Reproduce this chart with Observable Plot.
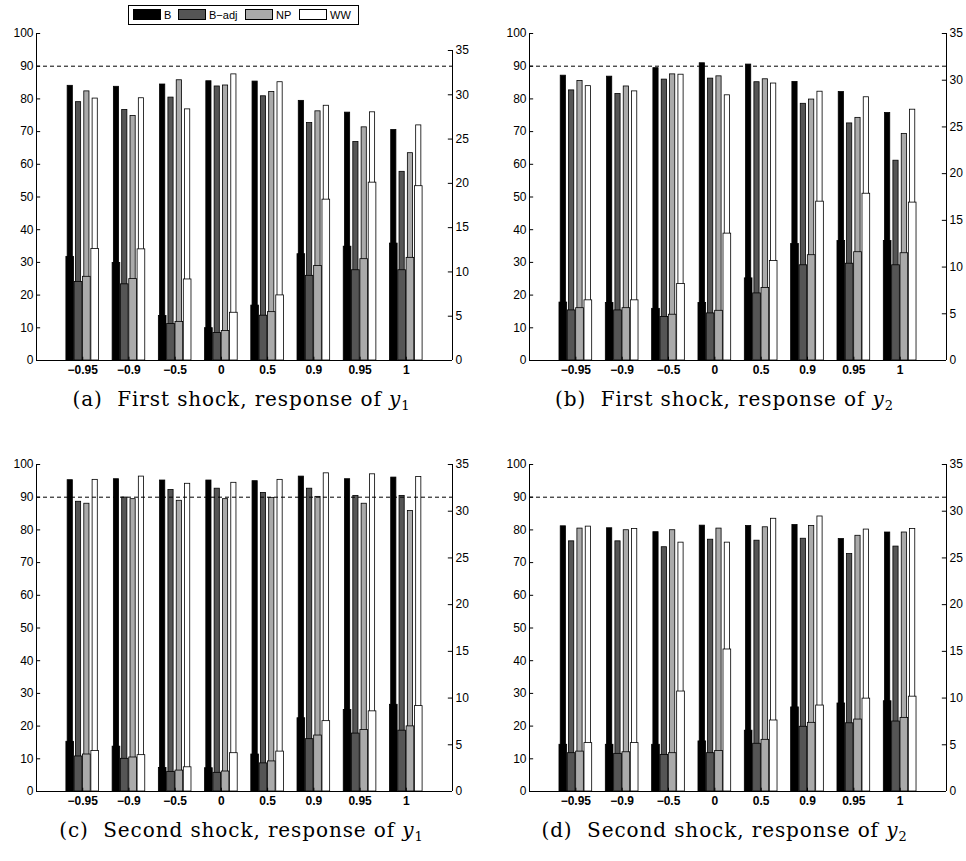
<!DOCTYPE html>
<html>
<head>
<meta charset="utf-8">
<script src="https://cdn.jsdelivr.net/npm/d3@7"></script>
<script src="https://cdn.jsdelivr.net/npm/@observablehq/plot@0.6"></script>
<style>
  body { margin: 0; background: #fff; }
  #fig { position: relative; width: 966px; height: 861px; background: #fff; overflow: hidden; }
  .panel { position: absolute; }
  .cap { position: absolute; width: 483px; text-align: center; font-family: "DejaVu Serif", "Liberation Serif", serif; font-size: 20px; letter-spacing: 0.9px; color: #000; white-space: nowrap; }
  .cap i { font-style: italic; }
  .cap sub { font-size: 13px; vertical-align: -4px; line-height: 0; }
  #legend { position: absolute; left: 128px; top: 5px; width: 229px; height: 18px; border: 1px solid #000; background: #fff;
            font-family: "Liberation Sans", Arial, sans-serif; font-size: 11px; }
  #legend .it { position: absolute; top: 3px; height: 12px; line-height: 12px; }
  #legend .sw { position: absolute; top: 0; width: 26px; height: 9px; border: 1px solid #000; }
  #legend .lb { position: absolute; top: 0; }
</style>
</head>
<body>
<div id="fig"></div>
<script>
// ---------------- data ----------------
const categories = ["\u22120.95", "\u22120.9", "\u22120.5", "0", "0.5", "0.9", "0.95", "1"];
const seriesNames = ["B", "B\u2212adj", "NP", "WW"];
const seriesColors = ["#000000", "#555555", "#aaaaaa", "#ffffff"];
const leftTicks = [0, 10, 20, 30, 40, 50, 60, 70, 80, 90, 100];
const rightTicks = [0, 5, 10, 15, 20, 25, 30, 35];
const nominal = 90;

// coverage (left axis, %), rows = B, B-adj, NP, WW
const coverageA = [
  [84.0, 83.7, 84.4, 85.4, 85.3, 79.4, 75.8, 70.5],
  [79.0, 76.6, 80.4, 83.8, 80.8, 72.6, 66.8, 57.7],
  [82.3, 74.8, 85.7, 84.1, 82.1, 76.2, 71.3, 63.4],
  [80.1, 80.2, 76.8, 87.5, 85.1, 77.9, 75.9, 71.9]
];
// length (right axis), rows = B, B-adj, NP, WW
const lengthA = [
  [11.7, 11.0, 5.02, 3.65, 6.2, 12.0, 12.85, 13.2],
  [8.86, 8.6, 4.13, 3.1, 5.06, 9.56, 10.19, 10.19],
  [9.45, 9.19, 4.36, 3.32, 5.46, 10.67, 11.44, 11.59],
  [12.6, 12.55, 9.15, 5.39, 7.35, 18.16, 20.08, 19.68]
];
const coverageB = [
  [87.1, 86.8, 89.4, 90.9, 90.5, 85.2, 82.1, 75.7],
  [82.6, 81.5, 85.9, 86.2, 85.1, 78.5, 72.5, 61.1],
  [85.5, 83.8, 87.5, 86.9, 86.0, 79.8, 74.2, 69.3],
  [83.9, 82.3, 87.4, 81.1, 84.7, 82.2, 80.5, 76.7]
];
const lengthB = [
  [6.2, 6.16, 5.53, 6.16, 8.79, 12.46, 12.78, 12.78],
  [5.36, 5.36, 4.66, 5.04, 7.18, 10.19, 10.36, 10.19],
  [5.6, 5.6, 4.9, 5.32, 7.77, 11.27, 11.59, 11.48],
  [6.44, 6.44, 8.19, 13.58, 10.64, 17.0, 17.85, 16.9]
];
const coverageC = [
  [95.2, 95.5, 95.1, 95.1, 94.9, 96.3, 95.5, 96.0],
  [88.6, 89.9, 92.2, 92.6, 91.3, 92.6, 90.4, 90.4],
  [88.0, 89.4, 88.9, 89.4, 89.8, 90.1, 88.0, 85.8],
  [95.3, 96.3, 94.1, 94.4, 95.3, 97.3, 97.0, 96.2]
];
const lengthC = [
  [5.32, 4.8, 2.52, 2.49, 3.96, 7.84, 8.72, 9.28],
  [3.75, 3.5, 2.1, 2.0, 3.01, 5.6, 6.2, 6.51],
  [3.96, 3.64, 2.24, 2.14, 3.22, 5.99, 6.58, 6.97],
  [4.34, 3.89, 2.59, 4.1, 4.27, 7.53, 8.58, 9.14]
];
const coverageD = [
  [81.1, 80.5, 79.3, 81.3, 81.2, 81.5, 77.2, 79.2],
  [76.5, 76.5, 74.7, 77.0, 76.7, 77.3, 72.6, 74.9],
  [80.4, 79.9, 79.9, 80.4, 80.8, 81.2, 78.2, 79.2],
  [81.0, 80.3, 76.1, 76.1, 83.4, 84.1, 80.1, 80.3]
];
const lengthD = [
  [5.0, 5.0, 5.0, 5.36, 6.51, 9.0, 9.42, 9.66],
  [4.1, 4.03, 3.92, 4.1, 5.11, 6.93, 7.3, 7.49],
  [4.27, 4.2, 4.1, 4.34, 5.53, 7.35, 7.7, 7.88],
  [5.18, 5.18, 10.7, 15.2, 7.6, 9.2, 9.94, 10.15]
];

// ---------------- drawing ----------------
const fig = document.getElementById("fig");
const FONT = "'Liberation Sans', Arial, Helvetica, sans-serif";

function panel({cov, len, left, top, mLeft, mRight, rightMax, letter, resp}) {
  // left-axis units per right-axis unit
  const k = rightMax / 35;
  const rows = [];
  categories.forEach((c, ci) => seriesNames.forEach((s, si) => rows.push({
    pos: ci + 1, si, cov: cov[si][ci], len: len[si][ci]
  })));
  const step = 0.18, wideHalf = 0.083, narrowHalf = 0.056;
  const cx = d => d.pos + (d.si - 1.5) * step;

  const svg = Plot.plot({
    width: 483, height: 381,
    marginLeft: mLeft, marginRight: mRight, marginTop: 33, marginBottom: 21,
    x: {domain: [0, 9], axis: null},
    y: {domain: [0, 100], axis: null},
    color: {type: "identity"},
    style: {fontFamily: FONT, fontSize: "12px", color: "#000", background: "transparent", overflow: "visible"},
    marks: [
      // coverage bars (narrow, left axis)
      Plot.rect(rows, {x1: d => cx(d) - narrowHalf, x2: d => cx(d) + narrowHalf, y1: () => 0, y2: "cov",
        fill: d => seriesColors[d.si], stroke: "#000", strokeWidth: 0.8}),
      // length bars (wide, right axis)
      Plot.rect(rows, {x1: d => cx(d) - wideHalf, x2: d => cx(d) + wideHalf, y1: () => 0, y2: d => d.len * k,
        fill: d => seriesColors[d.si], stroke: "#000", strokeWidth: 0.8}),
      // nominal level
      Plot.ruleY([nominal], {stroke: "#000", strokeWidth: 1, strokeDasharray: "4,3"}),
      // axis lines
      Plot.ruleX([0], {y1: 0, y2: 100, stroke: "#000", strokeWidth: 1}),
      Plot.ruleX([9], {y1: 0, y2: 35 * k, stroke: "#000", strokeWidth: 1}),
      Plot.ruleY([0], {stroke: "#000", strokeWidth: 1}),
      // inward ticks
      Plot.ruleY(leftTicks, {x1: 0, x2: 0.09, stroke: "#000", strokeWidth: 1}),
      Plot.ruleY(rightTicks.map(v => v * k), {x1: 8.91, x2: 9, stroke: "#000", strokeWidth: 1}),
      Plot.ruleX(d3.range(1, 9), {y1: 0, y2: 1, stroke: "#000", strokeWidth: 1}),
      // tick labels
      Plot.axisY({anchor: "left", ticks: leftTicks, tickSize: 0, tickPadding: 3, label: null, fontSize: 12}),
      Plot.axisY({anchor: "right", ticks: rightTicks.map(v => v * k), tickFormat: d => String(Math.round(d / k)),
        tickSize: 0, tickPadding: 3, label: null, fontSize: 12}),
      Plot.axisX({ticks: d3.range(1, 9), tickFormat: i => categories[i - 1], tickSize: 0, tickPadding: 5,
        fontWeight: "bold", fontSize: 12, label: null})
    ]
  });
  const wrap = document.createElement("div");
  wrap.className = "panel";
  wrap.style.left = left + "px";
  wrap.style.top = top + "px";
  wrap.appendChild(svg);
  fig.appendChild(wrap);

  const cap = document.createElement("div");
  cap.className = "cap";
  cap.style.left = left + "px";
  cap.style.top = (top + 387) + "px";
  cap.innerHTML = `(${letter})&nbsp; ${resp}, response of <i>y</i><sub>${letter === "a" || letter === "c" ? 1 : 2}</sub>`;
  fig.appendChild(cap);
}

panel({cov: coverageA, len: lengthA, left: 0, top: 0, mLeft: 36, mRight: 31, rightMax: 94.8, letter: "a", resp: "First shock"});
panel({cov: coverageB, len: lengthB, left: 483, top: 0, mLeft: 46, mRight: 20, rightMax: 100, letter: "b", resp: "First shock"});
panel({cov: coverageC, len: lengthC, left: 0, top: 431, mLeft: 36, mRight: 31, rightMax: 100, letter: "c", resp: "Second shock"});
panel({cov: coverageD, len: lengthD, left: 483, top: 431, mLeft: 46, mRight: 20, rightMax: 100, letter: "d", resp: "Second shock"});

// legend
const legend = document.createElement("div");
legend.id = "legend";
const swX = [4, 49, 116, 170];
seriesNames.forEach((s, i) => {
  const it = document.createElement("div");
  it.className = "it";
  it.style.left = swX[i] + "px";
  it.innerHTML = `<span class="sw" style="left:0;background:${seriesColors[i]}"></span><span class="lb" style="left:31px">${s}</span>`;
  legend.appendChild(it);
});
fig.appendChild(legend);
</script>
</body>
</html>
